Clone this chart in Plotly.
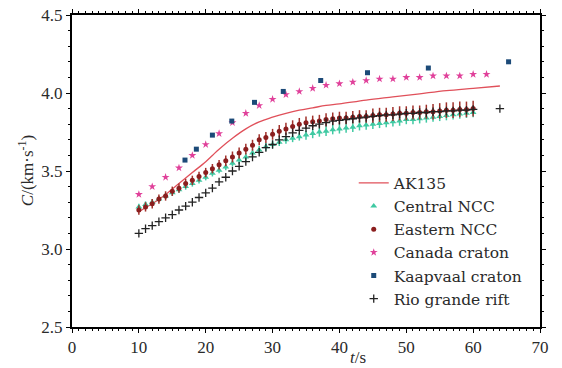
import plotly.graph_objects as go

# ---------------- data ----------------
ak_t = [10, 12, 14, 16, 18, 20, 21, 22, 24, 26, 28, 30, 32, 34, 36, 38, 40, 44, 48, 52, 56, 60, 64]
ak_v = [3.24, 3.29, 3.35, 3.42, 3.49, 3.56, 3.60, 3.64, 3.71, 3.77, 3.815, 3.845, 3.87, 3.89,
        3.905, 3.92, 3.93, 3.955, 3.975, 3.995, 4.015, 4.03, 4.045]

ncc_t = list(range(10, 61))
central_v = [3.27, 3.285, 3.30, 3.32, 3.34, 3.36, 3.38, 3.40, 3.42, 3.44,
             3.46, 3.485, 3.505, 3.525, 3.55, 3.57, 3.59, 3.615, 3.635, 3.655,
             3.67, 3.685, 3.70, 3.71, 3.72, 3.73, 3.74, 3.75, 3.755, 3.765,
             3.77, 3.775, 3.78, 3.79, 3.795, 3.80, 3.805, 3.81, 3.815, 3.82,
             3.83, 3.83, 3.835, 3.84, 3.845, 3.85, 3.855, 3.86, 3.865, 3.87, 3.875]
central_err = [0.02, 0.02, 0.02, 0.02, 0.02, 0.02, 0.02, 0.02, 0.02, 0.02,
               0.02, 0.02, 0.02, 0.02, 0.02, 0.025, 0.025, 0.025, 0.025, 0.025,
               0.025, 0.025, 0.025, 0.025, 0.025, 0.03, 0.03, 0.03, 0.03, 0.03,
               0.03, 0.03, 0.03, 0.03, 0.03, 0.03, 0.03, 0.03, 0.03, 0.03,
               0.03, 0.03, 0.03, 0.03, 0.03, 0.03, 0.03, 0.03, 0.03, 0.03, 0.03]
eastern_v = [3.25, 3.27, 3.29, 3.32, 3.34, 3.37, 3.39, 3.42, 3.44, 3.465,
             3.49, 3.515, 3.54, 3.565, 3.59, 3.615, 3.64, 3.665, 3.70, 3.715,
             3.735, 3.755, 3.77, 3.785, 3.80, 3.81, 3.815, 3.82, 3.83, 3.835,
             3.84, 3.84, 3.845, 3.85, 3.85, 3.855, 3.86, 3.86, 3.865, 3.87,
             3.87, 3.875, 3.875, 3.88, 3.88, 3.885, 3.89, 3.89, 3.895, 3.895, 3.90]
eastern_err = [0.03, 0.03, 0.03, 0.03, 0.03, 0.03, 0.03, 0.03, 0.03, 0.03,
               0.03, 0.03, 0.03, 0.035, 0.035, 0.035, 0.035, 0.035, 0.035, 0.035,
               0.035, 0.04, 0.04, 0.04, 0.04, 0.04, 0.04, 0.04, 0.04, 0.04,
               0.04, 0.04, 0.04, 0.04, 0.04, 0.045, 0.045, 0.045, 0.045, 0.045,
               0.045, 0.045, 0.045, 0.045, 0.05, 0.05, 0.05, 0.05, 0.05, 0.05, 0.05]

canada_t = [10, 12, 14, 16, 18, 20, 22, 24, 26, 28, 30, 32, 34, 36, 38, 40, 42, 44,
            46, 48, 50, 52, 54, 56, 58, 60, 62]
canada_v = [3.35, 3.40, 3.46, 3.52, 3.60, 3.67, 3.74, 3.81, 3.87, 3.92, 3.96, 3.99,
            4.01, 4.03, 4.05, 4.06, 4.07, 4.08, 4.09, 4.09, 4.10, 4.10, 4.11, 4.11,
            4.11, 4.12, 4.12]

kaap_t = [16.9, 18.6, 21.0, 23.9, 27.3, 31.6, 37.2, 44.2, 53.3, 65.3]
kaap_v = [3.57, 3.64, 3.73, 3.82, 3.94, 4.01, 4.08, 4.13, 4.16, 4.20]

rio_t = list(range(10, 61)) + [64]
rio_v = [3.10, 3.13, 3.15, 3.175, 3.20, 3.22, 3.25, 3.275, 3.30, 3.33,
         3.36, 3.39, 3.43, 3.46, 3.50, 3.53, 3.56, 3.59, 3.62, 3.65,
         3.67, 3.70, 3.72, 3.745, 3.76, 3.775, 3.79, 3.80, 3.81, 3.82,
         3.825, 3.83, 3.835, 3.84, 3.845, 3.85, 3.855, 3.86, 3.86, 3.865,
         3.87, 3.87, 3.875, 3.875, 3.88, 3.88, 3.885, 3.885, 3.89, 3.89, 3.895, 3.90]

x_ticks = [0, 10, 20, 30, 40, 50, 60, 70]
y_ticks = [2.5, 3.0, 3.5, 4.0, 4.5]
y_tick_text = ["2.5", "3.0", "3.5", "4.0", "4.5"]

# ---------------- figure ----------------
SERIF = "Liberation Serif"
LEG_SERIF = "DejaVu Serif"
TXT = "#2a2a2a"
fig = go.Figure()

fig.add_trace(go.Scatter(x=ak_t, y=ak_v, mode="lines", name="AK135",
                         line=dict(color="#e0505a", width=1.3, shape="spline")))
fig.add_trace(go.Scatter(x=ncc_t, y=central_v, mode="markers", name="Central NCC",
                         marker=dict(symbol="triangle-up", size=6, color="#3fc9a2"),
                         error_y=dict(type="data", array=central_err, width=0,
                                      thickness=1.5, color="#3fc9a2")))
fig.add_trace(go.Scatter(x=ncc_t, y=eastern_v, mode="markers", name="Eastern NCC",
                         marker=dict(symbol="circle", size=5, color="#8b1e1e"),
                         error_y=dict(type="data", array=eastern_err, width=0,
                                      thickness=1.5, color="#a0302a")))
fig.add_trace(go.Scatter(x=canada_t, y=canada_v, mode="markers", name="Canada craton",
                         marker=dict(symbol="star", size=6, color="#e0409a")))
fig.add_trace(go.Scatter(x=kaap_t, y=kaap_v, mode="markers", name="Kaapvaal craton",
                         marker=dict(symbol="square", size=5, color="#1c4a78")))
fig.add_trace(go.Scatter(x=rio_t, y=rio_v, mode="markers", name="Rio grande rift",
                         marker=dict(symbol="cross-thin", size=6,
                                     line=dict(color="#222222", width=1.3))))

axis_common = dict(showline=True, linecolor="black", linewidth=2, mirror="allticks",
                   ticks="outside", ticklen=4, tickwidth=1, tickcolor="black",
                   showgrid=False, zeroline=False, automargin=False,
                   ticklabeloverflow="allow",
                   tickfont=dict(family=SERIF, size=17, color=TXT))

fig.update_xaxes(range=[0, 70], tickvals=x_ticks,
                 minor=dict(ticks="outside", ticklen=2, dtick=1, tickcolor="black"),
                 **axis_common)
fig.update_yaxes(range=[2.5, 4.5], tickvals=y_ticks, ticktext=y_tick_text,
                 minor=dict(ticks="outside", ticklen=2, dtick=0.1, tickcolor="black"),
                 **axis_common)

fig.add_annotation(text="<i>t</i>/s", xref="paper", yref="paper", x=0.611, y=-0.099,
                   showarrow=False, xanchor="center", yanchor="middle",
                   font=dict(family=SERIF, size=17, color=TXT))
fig.add_annotation(text="<i>C</i>/(km·s<sup>-1</sup>)", xref="paper", yref="paper",
                   x=-0.098, y=0.5, textangle=-90, showarrow=False,
                   xanchor="center", yanchor="middle",
                   font=dict(family=SERIF, size=17, color=TXT))

# page body adds an 8px offset, so margins compensate for it
fig.update_layout(
    width=562, height=368,
    margin=dict(l=64, r=30, t=7, b=49),
    paper_bgcolor="white", plot_bgcolor="white",
    legend=dict(x=0.602, y=0.515, xanchor="left", yanchor="top",
                bgcolor="rgba(0,0,0,0)", borderwidth=0,
                font=dict(family=LEG_SERIF, size=15.5, color=TXT),
                itemwidth=30, tracegroupgap=0),
    showlegend=True,
)

fig.write_html("out.html")
